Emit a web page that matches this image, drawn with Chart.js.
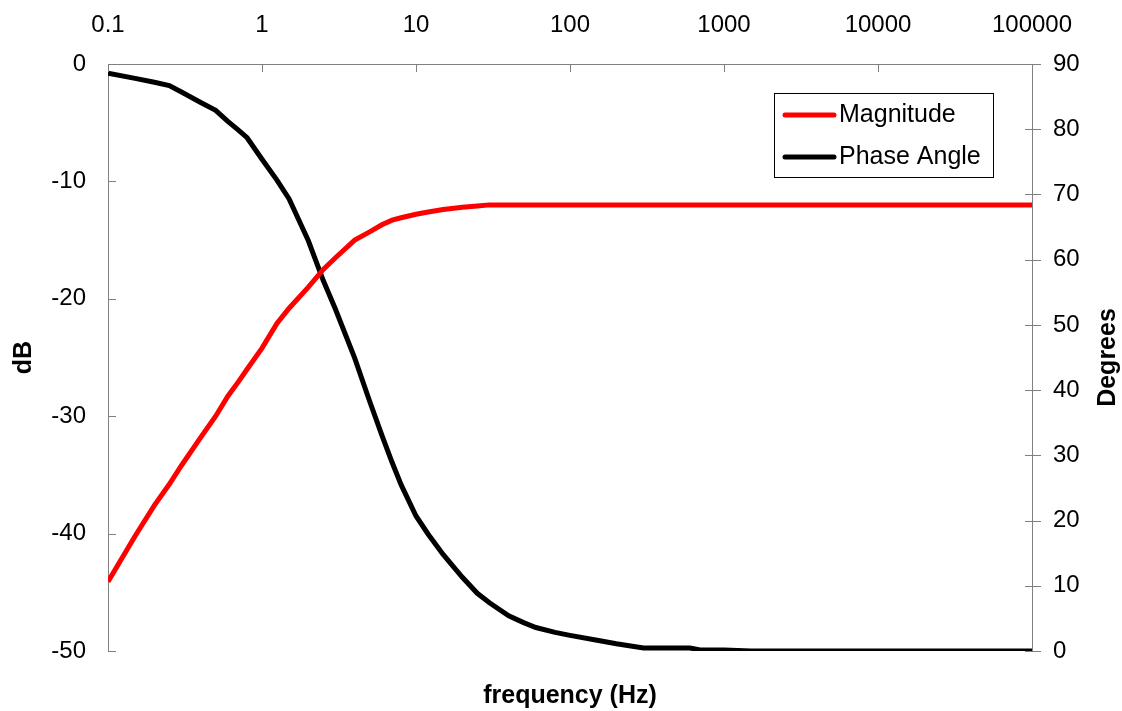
<!DOCTYPE html>
<html lang="en">
<head>
  <meta charset="UTF-8" />
  <title>Frequency response</title>
  <script src="https://cdn.jsdelivr.net/npm/chart.js"></script>
  <style>
    html, body {
      margin: 0;
      padding: 0;
      background-color: #fff;
    }
    #wrap {
      width: 1122px;
      height: 711px;
      position: relative;
    }
  </style>
</head>
<body>

  <div id="wrap"><canvas id="bode"></canvas></div>

  <script>
    // sweep points (Hz) and the two measured responses
    const freq = [0.1, 0.15, 0.2, 0.25, 0.3, 0.4, 0.5, 0.6, 0.7, 0.8, 1, 1.25, 1.5, 2, 2.5, 3, 4, 5, 6, 7, 8,
                  10, 12, 15, 20, 25, 30, 40, 50, 60, 80, 100, 150, 200, 300, 600, 700, 1000, 1500, 3000, 10000, 100000];
    const magnitudeDb = [-44.1, -40.2, -37.6, -35.8, -34.2, -31.8, -30.0, -28.3, -27.1, -26.0, -24.2, -22.1, -20.8,
                         -19.0, -17.5, -16.5, -15.0, -14.3, -13.7, -13.3, -13.1, -12.8, -12.6, -12.4, -12.2, -12.1,
                         -12.0, -12.0, -12.0, -12.0, -12.0, -12.0, -12.0, -12.0, -12.0, -12.0, -12.0, -12.0, -12.0,
                         -12.0, -12.0, -12.0];
    const phaseDeg = [88.6, 87.8, 87.2, 86.7, 85.7, 84.1, 82.9, 81.2, 79.9, 78.7, 75.4, 72.2, 69.3, 62.9, 56.8, 52.4,
                      44.9, 38.3, 33.1, 28.9, 25.5, 20.7, 17.9, 14.8, 11.3, 8.85, 7.4, 5.4, 4.35, 3.6, 2.85, 2.4,
                      1.65, 1.1, 0.46, 0.46, 0.15, 0.15, 0, 0, 0, 0];
    const freqTicks = [0.1, 1, 10, 100, 1000, 10000, 100000];
    const seriesNames = ['Magnitude', 'Phase Angle'];
    const seriesColors = ['#ff0000', '#000000'];

    const FONT = '"Liberation Sans", Arial, sans-serif';
    const AXIS_GREY = '#808080';

    // tick marks, axis titles and the boxed legend
    const axisDecor = {
      id: 'axisDecor',
      afterDraw(chart) {
        const { ctx, chartArea: a, scales } = chart;
        ctx.save();
        ctx.strokeStyle = AXIS_GREY;
        ctx.lineWidth = 1;
        ctx.beginPath();
        scales.x.ticks.forEach((t, i) => {
          const px = Math.round(scales.x.getPixelForTick(i)) + 0.5;
          ctx.moveTo(px, a.top);
          ctx.lineTo(px, a.top + 8);
        });
        scales.y.ticks.forEach((t, i) => {
          const py = Math.round(scales.y.getPixelForTick(i)) + 0.5;
          ctx.moveTo(a.left, py);
          ctx.lineTo(a.left + 8, py);
        });
        scales.y1.ticks.forEach((t, i) => {
          const py = Math.round(scales.y1.getPixelForTick(i)) + 0.5;
          ctx.moveTo(a.right - 7, py);
          ctx.lineTo(a.right + 9, py);
        });
        ctx.stroke();

        ctx.fillStyle = '#000';
        ctx.font = 'bold 25px ' + FONT;
        ctx.textAlign = 'center';
        ctx.textBaseline = 'middle';
        ctx.fillText('frequency (Hz)', (a.left + a.right) / 2, a.bottom + 45);

        const midY = (a.top + a.bottom) / 2;
        [[24, 'dB'], [a.right + 76, 'Degrees']].forEach(([x, txt]) => {
          ctx.save();
          ctx.translate(x, midY);
          ctx.rotate(-Math.PI / 2);
          ctx.fillText(txt, 0, 0);
          ctx.restore();
        });

        // legend box
        const lx = a.right - 258, ly = a.top + 29;
        ctx.strokeStyle = '#000';
        ctx.lineWidth = 1;
        ctx.strokeRect(lx + 0.5, ly + 0.5, 219, 84);
        ctx.font = '25px ' + FONT;
        ctx.textAlign = 'left';
        chart.data.datasets.forEach((ds, i) => {
          const rowY = ly + 22 + i * 42;
          ctx.strokeStyle = ds.borderColor;
          ctx.lineWidth = 5;
          ctx.lineCap = 'round';
          ctx.beginPath();
          ctx.moveTo(lx + 11, rowY);
          ctx.lineTo(lx + 60, rowY);
          ctx.stroke();
          ctx.fillText(ds.label, lx + 65, rowY);
        });
        ctx.restore();
      }
    };

    new Chart(document.getElementById('bode'), {
      type: 'line',
      data: {
        datasets: [
          {
            label: seriesNames[0],
            data: freq.map((f, i) => ({ x: f, y: magnitudeDb[i] })),
            borderColor: seriesColors[0],
            borderWidth: 5,
            pointRadius: 0,
            tension: 0,
            yAxisID: 'y'
          },
          {
            label: seriesNames[1],
            data: freq.map((f, i) => ({ x: f, y: phaseDeg[i] })),
            borderColor: seriesColors[1],
            borderWidth: 5,
            pointRadius: 0,
            tension: 0,
            yAxisID: 'y1'
          }
        ]
      },
      options: {
        responsive: true,
        maintainAspectRatio: false,
        animation: false,
        layout: { padding: { top: 0, left: 0, right: 0, bottom: 60 } },
        plugins: {
          legend: { display: false },
          tooltip: { enabled: false }
        },
        scales: {
          x: {
            type: 'logarithmic',
            position: 'top',
            min: 0.1,
            max: 100000,
            afterBuildTicks: s => { s.ticks = freqTicks.map(v => ({ value: v })); },
            afterFit: s => { s.height = 64; },
            grid: { display: false, drawTicks: false },
            border: { display: true, color: AXIS_GREY, width: 1 },
            ticks: {
              autoSkip: false,
              maxRotation: 0,
              padding: 24,
              color: '#000',
              font: { family: FONT, size: 24 },
              callback: v => String(v)
            }
          },
          y: {
            position: 'left',
            min: -50,
            max: 0,
            afterFit: s => { s.width = 108; },
            grid: { display: false, drawTicks: false },
            border: { display: true, color: AXIS_GREY, width: 1 },
            ticks: {
              stepSize: 10,
              padding: 22,
              color: '#000',
              font: { family: FONT, size: 24 }
            }
          },
          y1: {
            position: 'right',
            min: 0,
            max: 90,
            afterFit: s => { s.width = 90; },
            grid: { display: false, drawTicks: false },
            border: { display: true, color: AXIS_GREY, width: 1 },
            ticks: {
              stepSize: 10,
              padding: 21,
              color: '#000',
              font: { family: FONT, size: 24 }
            }
          }
        }
      },
      plugins: [axisDecor]
    });
  </script>
</body>
</html>
